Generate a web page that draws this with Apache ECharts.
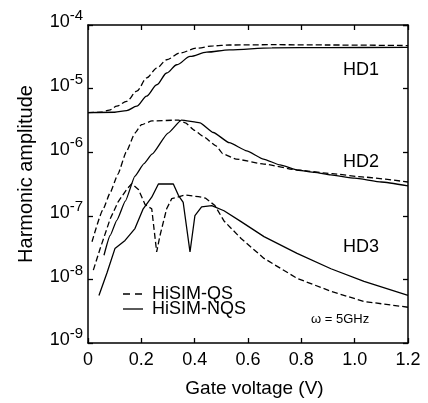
<!DOCTYPE html>
<html>
<head>
<meta charset="utf-8">
<script src="https://cdn.jsdelivr.net/npm/echarts@6/dist/echarts.min.js"></script>
<style>
html,body{margin:0;padding:0;background:#fff;}
#chart{width:428px;height:403px;}
</style>
</head>
<body>
<div id="chart"></div>
<script>
// Tick values and labels
const xTicks = [0, 0.2, 0.4, 0.6, 0.8, 1.0, 1.2];
const xTickLabels = ['0', '0.2', '0.4', '0.6', '0.8', '1.0', '1.2'];
const yExponents = [-9, -8, -7, -6, -5, -4];

// Series data: [gate voltage (V), harmonic amplitude]
const hd1QS = [[0,4.2e-6],[0.05,4.25e-6],[0.08,4.6e-6],[0.108,5.3e-6],[0.145,6.3e-6],[0.183,9.1e-6],[0.22,1.47e-5],[0.258,2.1e-5],[0.295,2.84e-5],[0.345,3.63e-5],[0.408,4.33e-5],[0.47,4.7e-5],[0.53,4.85e-5],[0.7,4.9e-5],[0.9,4.85e-5],[1.2,4.75e-5]];
const hd1NQS = [[0,4.2e-6],[0.1,4.25e-6],[0.145,4.5e-6],[0.183,5.3e-6],[0.22,7.6e-6],[0.258,1.15e-5],[0.295,1.76e-5],[0.333,2.37e-5],[0.383,3.2e-5],[0.445,3.74e-5],[0.53,4.07e-5],[0.69,4.37e-5],[0.9,4.42e-5],[1.2,4.45e-5]];
const hd2QS = [[0.015,3.9e-8],[0.056,1.25e-7],[0.083,2.3e-7],[0.112,4.5e-7],[0.143,1.0e-6],[0.176,2.0e-6],[0.2,2.7e-6],[0.24,3.1e-6],[0.34,3.2e-6],[0.365,2.9e-6],[0.4,2.2e-6],[0.43,1.8e-6],[0.48,1.26e-6],[0.505,9.5e-7],[0.555,7.8e-7],[0.66,6.5e-7],[0.79,5.2e-7],[0.915,4.6e-7],[1.035,4.06e-7],[1.2,3.4e-7]];
const hd2NQS = [[0.06,2.4e-8],[0.083,4.9e-8],[0.108,8.5e-8],[0.14,1.7e-7],[0.176,4.2e-7],[0.21,6.6e-7],[0.24,9.3e-7],[0.30,2.0e-6],[0.35,3.2e-6],[0.42,2.9e-6],[0.47,2.04e-6],[0.53,1.41e-6],[0.595,1.05e-6],[0.658,7.8e-7],[0.72,6.3e-7],[0.79,5.2e-7],[0.85,4.8e-7],[0.91,4.4e-7],[1.0,3.9e-7],[1.1,3.4e-7],[1.2,2.95e-7]];
const hd3QS = [[0.02,1.4e-8],[0.045,3.0e-8],[0.083,8.9e-8],[0.113,1.66e-7],[0.145,2.6e-7],[0.164,3.2e-7],[0.189,2.6e-7],[0.214,1.5e-7],[0.239,1.29e-7],[0.2575,2.7e-8],[0.27,4.9e-8],[0.295,1.29e-7],[0.314,1.86e-7],[0.364,2.12e-7],[0.414,2.0e-7],[0.44,1.9e-7],[0.476,1.45e-7],[0.51,8.3e-8],[0.574,4.4e-8],[0.66,2.14e-8],[0.784,1.04e-8],[0.911,6.5e-9],[1.035,4.5e-9],[1.2,3.65e-9]];
const hd3NQS = [[0.041,5.6e-9],[0.071,1.26e-8],[0.101,3.05e-8],[0.139,4.1e-8],[0.176,6.3e-8],[0.207,1.29e-7],[0.239,1.96e-7],[0.264,3.16e-7],[0.32,3.16e-7],[0.339,2.1e-7],[0.357,1.62e-7],[0.3825,2.7e-8],[0.401,1.01e-7],[0.426,1.38e-7],[0.464,1.45e-7],[0.51,1.2e-7],[0.574,8.1e-8],[0.66,4.7e-8],[0.784,2.57e-8],[0.911,1.47e-8],[1.035,9.3e-9],[1.2,5.6e-9]];

const FONT = "'Liberation Sans', Arial, sans-serif";
const chart = echarts.init(document.getElementById('chart'), null, {renderer: 'canvas'});

function mkSeries(name, data, dashed, smooth) {
  return {
    name: name, type: 'line', data: data, showSymbol: false, symbol: 'none',
    smooth: smooth, smoothMonotone: 'x', animation: false,
    xAxisIndex: 0, yAxisIndex: 0,
    lineStyle: {color: '#000', width: 1.3, type: dashed ? [6, 3] : 'solid'}
  };
}

const axisLine = {show: true, onZero: false, lineStyle: {color: '#000', width: 1.5}};
const axisTick = {show: true, inside: true, length: 5, lineStyle: {color: '#000', width: 1.3}};

const option = {
  backgroundColor: '#fff',
  animation: false,
  grid: {left: 88, right: 20, top: 25, bottom: 58, containLabel: false},
  xAxis: [{
    type: 'value', position: 'bottom', min: 0, max: 1.2, interval: 0.2,
    axisLine: axisLine, axisTick: axisTick, splitLine: {show: false},
    axisLabel: {
      margin: 8, color: '#000', fontSize: 18, fontFamily: FONT,
      formatter: function (v) {
        const i = xTicks.findIndex(t => Math.abs(t - v) < 1e-9);
        return i >= 0 ? xTickLabels[i] : '';
      }
    },
    name: 'Gate voltage (V)', nameLocation: 'middle', nameGap: 36,
    nameTextStyle: {color: '#000', fontSize: 19, fontFamily: FONT, padding: [0, 0, 0, 13]}
  }, {
    type: 'value', position: 'top', min: 0, max: 1.2, interval: 0.2,
    axisLine: axisLine, axisTick: axisTick, splitLine: {show: false},
    axisLabel: {show: false}
  }],
  yAxis: [{
    type: 'log', logBase: 10, position: 'left', min: 1e-9, max: 1e-4,
    axisLine: axisLine, axisTick: axisTick, splitLine: {show: false},
    minorTick: {show: false},
    axisLabel: {
      margin: 5, color: '#000', fontFamily: FONT, padding: [0, 0, 10, 0],
      formatter: function (v) {
        const e = Math.round(Math.log10(v));
        return yExponents.indexOf(e) >= 0 ? '{b|10}{s|' + e + '}' : '';
      },
      rich: {
        b: {fontSize: 18, fontFamily: FONT, color: '#000', verticalAlign: 'bottom'},
        s: {fontSize: 15, fontFamily: FONT, color: '#000', verticalAlign: 'bottom', padding: [0, 0, 8, 0]}
      }
    },
    name: 'Harmonic amplitude', nameLocation: 'middle', nameGap: 52,
    nameTextStyle: {color: '#000', fontSize: 20, fontFamily: FONT, padding: [0, 0, 0, 20]}
  }, {
    type: 'log', logBase: 10, position: 'right', min: 1e-9, max: 1e-4,
    axisLine: axisLine, axisTick: axisTick, splitLine: {show: false},
    axisLabel: {show: false}
  }],
  series: [
    mkSeries('HiSIM-QS', hd1QS, true, 0.3),
    mkSeries('HiSIM-NQS', hd1NQS, false, 0.3),
    mkSeries('HiSIM-QS', hd2QS, true, 0.15),
    mkSeries('HiSIM-NQS', hd2NQS, false, 0.15),
    mkSeries('HiSIM-QS', hd3QS, true, false),
    mkSeries('HiSIM-NQS', hd3NQS, false, false)
  ],
  graphic: [
    {type: 'text', left: 343, top: 61, style: {text: 'HD1', fontSize: 18, fontFamily: FONT, fill: '#000'}},
    {type: 'text', left: 343, top: 153, style: {text: 'HD2', fontSize: 18, fontFamily: FONT, fill: '#000'}},
    {type: 'text', left: 343, top: 238, style: {text: 'HD3', fontSize: 18, fontFamily: FONT, fill: '#000'}},
    {type: 'line', shape: {x1: 123, y1: 294, x2: 142, y2: 294}, style: {stroke: '#000', lineWidth: 1.3, lineDash: [7, 5]}},
    {type: 'text', left: 152, top: 285, style: {text: 'HiSIM-QS', fontSize: 18, fontFamily: FONT, fill: '#000'}},
    {type: 'line', shape: {x1: 123, y1: 309, x2: 143, y2: 309}, style: {stroke: '#000', lineWidth: 1.3}},
    {type: 'text', left: 152, top: 300, style: {text: 'HiSIM-NQS', fontSize: 18, fontFamily: FONT, fill: '#000'}},
    {type: 'text', left: 311, top: 313, style: {text: 'ω = 5GHz', fontSize: 13, fontFamily: FONT, fill: '#000'}}
  ]
};
chart.setOption(option);
</script>
</body>
</html>
